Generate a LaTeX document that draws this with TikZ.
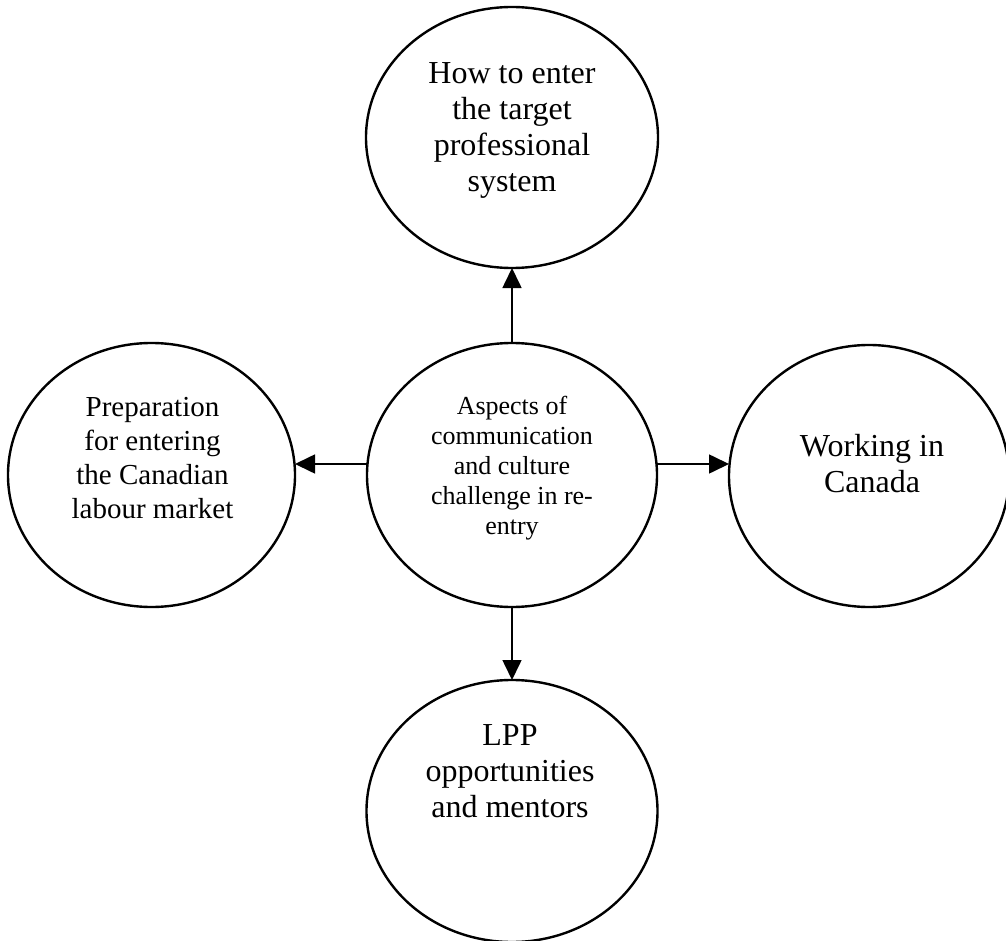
\documentclass[tikz,border=0pt]{standalone}
\usepackage{fontspec}
\setmainfont{Liberation Serif}
\usetikzlibrary{shapes.geometric,arrows.meta}
\tikzset{
  bubble/.style={draw,ellipse,line width=2.4pt,inner sep=0pt,outer sep=0pt},
  bigtxt/.style={align=center,inner sep=0pt,font=\fontsize{32pt}{36pt}\selectfont},
  midtxt/.style={align=center,inner sep=0pt,font=\fontsize{29pt}{34pt}\selectfont},
  smalltxt/.style={align=center,inner sep=0pt,font=\fontsize{26pt}{30pt}\selectfont},
  link/.style={line width=1.6pt,-{Triangle[length=20pt,width=19pt]}}
}
\begin{document}
\begin{tikzpicture}[x=1pt,y=-1pt]
\useasboundingbox (0,0) rectangle (1006,941);
% circles
\node[bubble,minimum width=292pt,minimum height=261pt] (top) at (512,137.5) {};
\node[bubble,minimum width=290pt,minimum height=264pt] (mid) at (512,475) {};
\node[bubble,minimum width=287pt,minimum height=264pt] (left) at (151.5,475) {};
\node[bubble,minimum width=280pt,minimum height=262pt] (right) at (869,476) {};
\node[bubble,minimum width=291pt,minimum height=262pt] (bot) at (512,811) {};
% texts
\node[bigtxt] (toptxt) at (512,130) {How to enter\\the target\\professional\\system};
\node[smalltxt] (midtxt) at (512,468) {Aspects of\\communication\\and culture\\challenge in re-\\entry};
\node[midtxt] (lefttxt) at (152.5,458) {Preparation\\for entering\\the Canadian\\labour market};
\node[bigtxt] (righttxt) at (872,464) {Working in\\Canada};
\node[bigtxt] (bottxt) at (510,771) {LPP\\opportunities\\and mentors};
% connectors
\draw[link] (mid.north) -- (top.south);
\draw[link] (mid.south) -- (bot.north);
\draw[link] ([yshift=11pt]mid.west) -- ([yshift=11pt]left.east);
\draw[link] ([yshift=11pt]mid.east) -- ([yshift=12pt]right.west);
\end{tikzpicture}
\end{document}
